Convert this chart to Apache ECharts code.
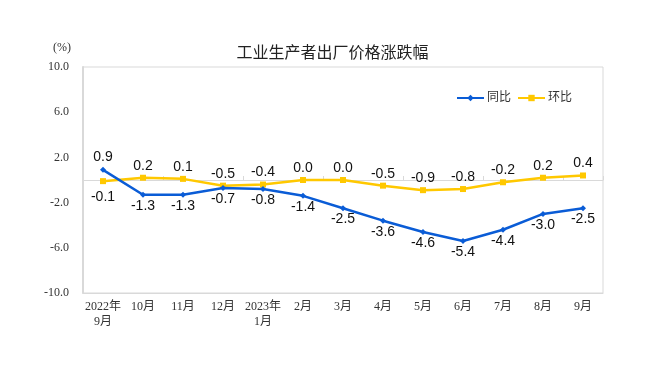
<!DOCTYPE html>
<html>
<head>
<meta charset="utf-8">
<script src="https://cdn.jsdelivr.net/npm/echarts@6/dist/echarts.min.js"></script>
<style>html,body{margin:0;padding:0;background:#fff;}#c{width:665px;height:369px;}</style>
</head>
<body>
<div id="c"></div>
<script>
var categories = ['2022年\n9月','10月','11月','12月','2023年\n1月','2月','3月','4月','5月','6月','7月','8月','9月'];
var yoy = [0.9, -1.3, -1.3, -0.7, -0.8, -1.4, -2.5, -3.6, -4.6, -5.4, -4.4, -3.0, -2.5];
var mom = [-0.1, 0.2, 0.1, -0.5, -0.4, 0.0, 0.0, -0.5, -0.9, -0.8, -0.2, 0.2, 0.4];
var seriesNames = ['同比', '环比'];
var titleText = '工业生产者出厂价格涨跌幅';
var unitText = '(%)';

var serif = '"Liberation Serif","Noto Sans CJK SC",serif';
var sans = '"Liberation Sans","Noto Sans CJK SC",sans-serif';

var chart = echarts.init(document.getElementById('c'), null, {renderer: 'canvas'});
chart.setOption({
  animation: false,
  backgroundColor: '#fff',
  title: {
    text: titleText, left: 'center', top: 41,
    textStyle: {fontFamily: sans, fontSize: 16, fontWeight: 'normal', color: '#222'}
  },
  graphic: [{
    type: 'text', left: 53, top: 42,
    style: {text: unitText, font: '12px ' + serif, fill: '#333'}
  }],
  legend: {
    right: 88, top: 87, itemWidth: 27, itemHeight: 8, itemGap: 6,
    textStyle: {fontFamily: sans, fontSize: 12, color: '#333', padding: [0, 0, 0, -2]},
    data: seriesNames
  },
  grid: {left: 83, right: 62, top: 67, bottom: 76, show: true, borderColor: '#d9d9d9', borderWidth: 1},
  xAxis: [{
    type: 'category', data: categories, boundaryGap: true, position: 'bottom',
    axisLine: {show: true, onZero: false, lineStyle: {color: '#d9d9d9'}},
    axisTick: {show: false},
    axisLabel: {fontFamily: serif, fontSize: 12, color: '#333', margin: 6, lineHeight: 15, interval: 0}
  }, {
    type: 'category', data: categories, boundaryGap: true, position: 'bottom',
    axisLine: {show: true, onZero: true, lineStyle: {color: '#d9d9d9'}},
    axisTick: {show: true, inside: true, length: 4, lineStyle: {color: '#d9d9d9'}},
    axisLabel: {show: false}
  }],
  yAxis: {
    type: 'value', min: -10, max: 10, interval: 4,
    axisLine: {show: true, lineStyle: {color: '#d9d9d9', width: 2}},
    axisTick: {show: false},
    splitLine: {show: false},
    axisLabel: {fontFamily: serif, fontSize: 12, color: '#333', margin: 14,
      formatter: function (v) { return v.toFixed(1); }}
  },
  series: [{
    name: seriesNames[0], type: 'line', xAxisIndex: 0,
    symbol: 'diamond', symbolSize: 6, showAllSymbol: true,
    lineStyle: {color: '#0a5cd6', width: 2.5},
    itemStyle: {color: '#0a5cd6'},
    label: {
      show: true, color: '#111', fontFamily: sans, fontSize: 14,
      position: 'bottom', distance: 1,
      formatter: function (p) { return p.value.toFixed(1); }
    },
    data: yoy.map(function (v, i) {
      return i === 0 ? {value: v, label: {position: 'top', distance: 3}} : v;
    }),
    z: 3
  }, {
    name: seriesNames[1], type: 'line', xAxisIndex: 0,
    symbol: 'rect', symbolSize: 6, showAllSymbol: true,
    lineStyle: {color: '#ffc800', width: 2.5},
    itemStyle: {color: '#ffc800'},
    label: {
      show: true, color: '#111', fontFamily: sans, fontSize: 14,
      position: 'top', distance: 2,
      formatter: function (p) { return p.value.toFixed(1); }
    },
    data: mom.map(function (v, i) {
      return i === 0 ? {value: v, label: {position: 'bottom', distance: 6}} : v;
    }),
    z: 2
  }]
});
</script>
</body>
</html>
